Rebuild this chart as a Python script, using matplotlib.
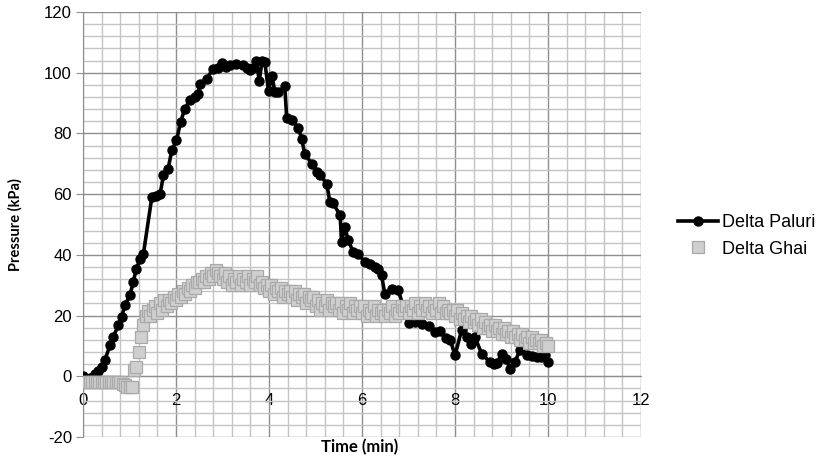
import numpy as np
import matplotlib
matplotlib.use("Agg")
import matplotlib.pyplot as plt
from matplotlib.ticker import MultipleLocator

plt.rcParams['axes.unicode_minus'] = False

# Delta Paluri (black line with circle markers)
paluri_t = [0, 0.15, 0.26, 0.33, 0.4, 0.47, 0.58, 0.65, 0.76, 0.83,
            0.9, 1.01, 1.08, 1.15, 1.23, 1.3, 1.48, 1.58, 1.66, 1.73,
            1.83, 1.91, 2.01, 2.1, 2.19, 2.3, 2.41, 2.47, 2.52, 2.66,
            2.8, 2.9, 2.98, 3.08, 3.16, 3.3, 3.45, 3.52, 3.59, 3.66,
            3.73, 3.79, 3.85, 3.91, 3.99, 4.06, 4.13, 4.2, 4.34, 4.38,
            4.49, 4.63, 4.7, 4.77, 4.92, 5.03, 5.1, 5.24, 5.31, 5.38,
            5.53, 5.56, 5.63, 5.7, 5.81, 5.92, 6.06, 6.17, 6.28, 6.35,
            6.42, 6.49, 6.64, 6.78, 7.0, 7.14, 7.28, 7.45, 7.57, 7.67,
            7.8, 7.9, 8.0, 8.14, 8.25, 8.35, 8.43, 8.57, 8.75, 8.83,
            8.9, 9.0, 9.1, 9.18, 9.29, 9.4, 9.54, 9.65, 9.76, 9.85,
            9.94, 10.0]
paluri_p = [0, -0.5, 0.9, 1.8, 3, 5.3, 10.2, 12.9, 16.8, 19.5,
            23.4, 26.7, 31.1, 35.5, 38.8, 40.4, 59, 59.5, 60.2, 66.2,
            68.4, 74.4, 77.7, 83.8, 88.2, 90.9, 92, 93, 96.4, 98,
            101.3, 101.5, 103.2, 102, 102.4, 103, 102.4, 101.5, 100.8, 101.5,
            104, 97.3, 103.8, 103.5, 94, 99, 93.6, 93.6, 95.5, 85.2,
            84.3, 81.9, 78.3, 73.3, 70, 67.3, 66.2, 63.5, 57.4, 57,
            53, 44.2, 49.2, 45, 40.9, 40.4, 37.6, 37.1, 36, 35.5,
            33.3, 27.2, 28.9, 28.3, 17.6, 18, 17.1, 16.5, 14.6, 15,
            12.5, 11.9, 6.9, 15.1, 12.9, 10.5, 12.9, 7.5, 4.7, 4.2,
            4.4, 7.2, 5.8, 2.5, 4.7, 8.8, 6.9, 6.8, 6.4, 6.5,
            6.9, 4.7]

# Delta Ghai (grey squares), one reading every 0.05 min
ghai_t = np.round(np.linspace(0, 10, 201), 2)
ghai_p = [-2, -2, -2, -2, -2, -2, -2, -2, -2, -2,
          -2, -2, -2, -2, -2, -2, -2, -2.5, -3, -3.5,
          -3.5, -3.5, 2, 3, 8, 13, 17, 20, 21.5, 20,
          22, 23, 21, 24, 22, 25, 23, 25, 24, 26,
          25, 27, 26, 28, 27, 29, 28, 30, 29, 31,
          31, 32, 31, 33, 32, 34, 33, 35, 34, 33,
          32, 34, 31, 33, 30, 32, 31, 33, 30, 32,
          31, 33, 30, 32, 31, 33, 30, 31, 29, 30,
          28, 30, 27, 29, 28, 29, 26, 28, 27, 28,
          26, 28, 25, 27, 26, 27, 24, 26, 25, 26,
          23, 25, 22, 24, 23, 25, 22, 24, 23, 24,
          22, 24, 21, 23, 22, 24, 21, 23, 22, 23,
          21, 23, 20, 22, 21, 23, 20, 22, 21, 22,
          20, 22, 21, 23, 20, 22, 21, 23, 22, 23,
          21, 23, 22, 24, 21, 23, 22, 24, 22, 23,
          21, 23, 22, 24, 21, 23, 21, 22, 21, 22,
          20, 22, 19, 21, 19, 20, 18, 20, 18, 19,
          17, 19, 16, 18, 16, 17, 15, 17, 15, 16,
          14, 16, 14, 15, 13, 15, 13, 14, 12, 14,
          12, 13, 11, 13, 11, 12, 11, 12, 10, 11,
          10]

fig = plt.figure(figsize=(8.39, 4.58), dpi=100)
ax = fig.add_axes([83 / 839, 1 - 437 / 458, (641 - 83) / 839, (437 - 12) / 458])

ax.plot(paluri_t, paluri_p, color='black', lw=2.6, marker='o', ms=6.5,
        label='Delta Paluri', zorder=3)
ax.plot(ghai_t, ghai_p, ls='none', marker='s', ms=9, mfc='#cfcfcf',
        mec='#a9a9a9', mew=0.9, label='Delta Ghai', zorder=4)

ax.set_xlim(0, 12)
ax.set_ylim(-20, 120)
ax.xaxis.set_major_locator(MultipleLocator(2))
ax.xaxis.set_minor_locator(MultipleLocator(0.4))
ax.yaxis.set_major_locator(MultipleLocator(20))
ax.yaxis.set_minor_locator(MultipleLocator(4))
ax.grid(which='major', color='#8e8e8e', lw=1.0)
ax.grid(which='minor', color='#c4c4c4', lw=1.0)
ax.set_axisbelow(True)

ax.spines['top'].set_visible(False)
ax.spines['right'].set_visible(False)
ax.spines['bottom'].set_position(('data', 0))
ax.spines['bottom'].set_color('#8e8e8e')
ax.spines['left'].set_color('#8e8e8e')
ax.tick_params(which='both', length=0)
ax.tick_params(axis='y', which='major', length=5, color='#8e8e8e', pad=3)
ax.tick_params(axis='x', pad=12)
for lab in ax.get_xticklabels() + ax.get_yticklabels():
    lab.set_fontfamily('Liberation Sans')
    lab.set_fontsize(12)

ax.set_xlabel('Time (min)', fontfamily='Lato', fontweight='bold', fontsize=12)
ax.xaxis.set_label_coords(0.495, -0.005)
ax.set_ylabel('Pressure (kPa)', fontfamily='Lato', fontweight='bold', fontsize=10.5)
ax.yaxis.set_label_coords(-0.108, 0.5)

leg = fig.legend(loc='center left', bbox_to_anchor=(662 / 839, 1 - 236 / 458),
                 frameon=False, prop={'family': 'Liberation Sans', 'size': 13},
                 handlelength=2.2, handletextpad=0.2, labelspacing=0.5)

fig.savefig('out.png', dpi=100)
